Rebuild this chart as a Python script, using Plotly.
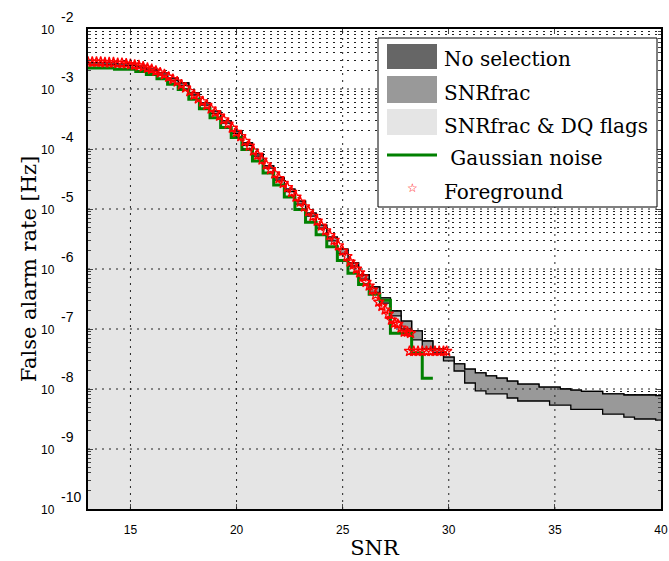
import plotly.graph_objects as go

# step curves: bin start SNR and log10(false alarm rate)
snr = [13.0, 14.25, 15.25, 15.75, 16.25, 16.75, 17.25, 17.75, 18.25, 18.75,
       19.25, 19.75, 20.25, 20.75, 21.25, 21.75, 22.25, 22.75, 23.25, 23.75,
       24.25, 24.75, 25.25, 25.75, 26.25, 26.75, 27.25, 27.75, 28.25, 28.75,
       29.25, 29.75, 30.25, 30.75, 31.25, 31.75, 32.25, 32.75, 33.25, 33.75,
       34.25, 34.75, 35.25, 35.75, 36.25, 36.75, 37.25, 37.75, 38.25, 38.75,
       39.25, 39.75, 40.0]

no_selection_exp = [-2.56, -2.58, -2.62, -2.67, -2.73, -2.82, -2.90, -3.06, -3.23, -3.37,
                    -3.53, -3.70, -3.90, -4.08, -4.28, -4.48, -4.67, -4.87, -5.07, -5.27,
                    -5.47, -5.67, -5.90, -6.10, -6.30, -6.48, -6.70, -6.87, -7.03, -7.20,
                    -7.33, -7.47, -7.58, -7.67, -7.73, -7.78, -7.82, -7.87, -7.92, -7.92,
                    -7.97, -7.97, -8.00, -8.02, -8.04, -8.04, -8.08, -8.08, -8.10, -8.10,
                    -8.10, -8.11, -8.11]

snrfrac_exp = [-2.56, -2.58, -2.62, -2.67, -2.73, -2.82, -2.90, -3.06, -3.23, -3.37,
               -3.53, -3.70, -3.90, -4.08, -4.28, -4.48, -4.67, -4.87, -5.07, -5.27,
               -5.47, -5.67, -5.90, -6.10, -6.30, -6.48, -6.70, -6.87, -7.03, -7.20,
               -7.33, -7.47, -7.58, -7.67, -7.73, -7.78, -7.82, -7.87, -7.92, -7.92,
               -7.97, -7.97, -8.00, -8.02, -8.04, -8.04, -8.08, -8.08, -8.10, -8.10,
               -8.10, -8.11, -8.11]

dq_exp = [-2.59, -2.61, -2.65, -2.70, -2.77, -2.86, -2.94, -3.10, -3.27, -3.41,
          -3.57, -3.74, -3.94, -4.12, -4.32, -4.52, -4.71, -4.92, -5.12, -5.32,
          -5.53, -5.74, -5.95, -6.17, -6.39, -6.57, -6.78, -7.00, -7.18, -7.33,
          -7.40, -7.53, -7.70, -7.90, -8.03, -8.08, -8.08, -8.15, -8.20, -8.20,
          -8.20, -8.27, -8.27, -8.34, -8.34, -8.34, -8.42, -8.42, -8.47, -8.50,
          -8.50, -8.52, -8.52]

gauss_snr = [13.0, 14.25, 15.25, 15.75, 16.25, 16.75, 17.25, 17.75, 18.25, 18.75,
             19.25, 19.75, 20.25, 20.75, 21.25, 21.75, 22.25, 22.75, 23.25, 23.75,
             24.25, 24.75, 25.25, 25.75, 26.25, 26.75, 27.25, 27.75, 28.25, 28.75,
             29.25]
gauss_exp = [-2.65, -2.67, -2.71, -2.76, -2.83, -2.92, -3.01, -3.17, -3.33, -3.48,
             -3.64, -3.81, -4.01, -4.20, -4.40, -4.60, -4.80, -5.01, -5.22, -5.43,
             -5.63, -5.86, -6.07, -6.26, -6.42, -6.52, -7.07, -7.07, -7.40, -7.82,
             -7.82]

fg_snr = [13.0, 13.2, 13.4, 13.6, 13.8, 14.0, 14.2, 14.4, 14.6, 14.8,
          15.0, 15.2, 15.4, 15.6, 15.8, 16.0, 16.2, 16.4, 16.6, 16.8,
          17.0, 17.2, 17.4, 17.6, 17.8, 18.0, 18.2, 18.4, 18.6, 18.8,
          19.0, 19.2, 19.4, 19.6, 19.8, 20.0, 20.2, 20.4, 20.6, 20.8,
          21.0, 21.2, 21.4, 21.6, 21.8, 22.0, 22.2, 22.4, 22.6, 22.8,
          23.0, 23.2, 23.4, 23.6, 23.8, 24.0, 24.2, 24.4, 24.6, 24.8,
          25.0, 25.2, 25.35, 25.5, 25.65, 25.8, 25.95, 26.1, 26.25, 26.4,
          26.55, 26.7, 26.85, 27.0, 27.15, 27.3, 27.45, 27.6, 27.75, 27.9,
          28.05, 28.2, 28.15, 28.35, 28.55, 28.75, 28.95, 29.15, 29.35, 29.55,
          29.75, 29.9]
fg_exp = [-2.55, -2.55, -2.55, -2.55, -2.56, -2.56, -2.56, -2.57, -2.57, -2.58,
          -2.59, -2.60, -2.61, -2.63, -2.65, -2.67, -2.70, -2.73, -2.76, -2.80,
          -2.84, -2.88, -2.93, -2.98, -3.04, -3.10, -3.16, -3.21, -3.27, -3.33,
          -3.39, -3.45, -3.51, -3.58, -3.65, -3.72, -3.79, -3.87, -3.95, -4.03,
          -4.10, -4.18, -4.26, -4.34, -4.41, -4.49, -4.57, -4.64, -4.72, -4.80,
          -4.88, -4.96, -5.04, -5.12, -5.20, -5.28, -5.36, -5.44, -5.52, -5.61,
          -5.70, -5.79, -5.88, -5.93, -6.00, -6.06, -6.13, -6.22, -6.28, -6.35,
          -6.43, -6.55, -6.62, -6.68, -6.75, -6.85, -6.90, -6.92, -6.98, -7.05,
          -7.05, -7.07, -7.37, -7.37, -7.37, -7.37, -7.37, -7.37, -7.37, -7.37,
          -7.37, -7.37]

x_ticks = [15, 20, 25, 30, 35, 40]
y_exps = [-10, -9, -8, -7, -6, -5, -4, -3, -2]

legend_labels = ["No selection", "SNRfrac", "SNRfrac & DQ flags", " Gaussian noise", "Foreground"]

W, H = 669, 561
L, R, T, B = 88, 8, 29, 52
X0, X1 = 13, 40


def pw(v):
    return [10 ** e for e in v]


def px_x(p):
    # page pixel -> paper x
    return (p - L) / (W - L - R)


def px_y(p):
    # page pixel -> paper y
    return (H - B - p) / (H - T - B)


fig = go.Figure()

# No selection lies under SNRfrac everywhere, only its edge is drawn
fig.add_trace(go.Scatter(x=snr, y=pw(no_selection_exp), mode="lines", line_shape="hv",
                         line=dict(color="black", width=1.3), showlegend=False))
fig.add_trace(go.Scatter(x=snr, y=pw(snrfrac_exp), mode="lines", line_shape="hv",
                         line=dict(color="black", width=1.3), fill="tozeroy",
                         fillcolor="#999999", showlegend=False))
fig.add_trace(go.Scatter(x=snr, y=pw(dq_exp), mode="lines", line_shape="hv",
                         line=dict(color="black", width=1.3), fill="tozeroy",
                         fillcolor="#e5e5e5", showlegend=False))

fig.add_trace(go.Scatter(x=gauss_snr, y=pw(gauss_exp), mode="lines", line_shape="hv",
                         line=dict(color="#008000", width=3), showlegend=False))

fig.add_trace(go.Scatter(x=fg_snr, y=pw(fg_exp), mode="markers",
                         marker=dict(symbol="star-open", size=8, color="red",
                                     line=dict(width=1.3, color="red")),
                         showlegend=False))

# legend box (pixel layout)
bx0, bx1, by0, by1 = px_x(378), px_x(657), px_y(207), px_y(38)
shapes = []
grid = dict(color="#222222", width=1, dash="2px,5px")
for e in y_exps[1:-1]:
    yp = (e - y_exps[0]) / (y_exps[-1] - y_exps[0])
    xe = bx0 if by0 < yp < by1 else 1
    shapes.append(dict(type="line", xref="paper", yref="paper", x0=0, x1=xe,
                       y0=yp, y1=yp, line=grid, layer="above"))
for xv in x_ticks[:-1]:
    xp = (xv - X0) / (X1 - X0)
    ye = by0 if bx0 < xp < bx1 else 1
    shapes.append(dict(type="line", xref="paper", yref="paper", x0=xp, x1=xp,
                       y0=0, y1=ye, line=grid, layer="above"))

shapes.append(dict(type="rect", xref="paper", yref="paper", x0=bx0, x1=bx1, y0=by0, y1=by1,
                   fillcolor="white", line=dict(color="black", width=1), layer="above"))
sw = [(44, 69, "#666666"), (76, 103, "#999999"), (109, 135, "#e5e5e5")]
for top, bot, col in sw:
    shapes.append(dict(type="rect", xref="paper", yref="paper", x0=px_x(387), x1=px_x(437),
                       y0=px_y(bot), y1=px_y(top), fillcolor=col, line=dict(width=0),
                       layer="above"))
shapes.append(dict(type="line", xref="paper", yref="paper", x0=px_x(387), x1=px_x(437),
                   y0=px_y(155), y1=px_y(155), line=dict(color="#008000", width=3),
                   layer="above"))

annotations = []
for lab, yc in zip(legend_labels, [59, 93, 126, 158, 192]):
    annotations.append(dict(text=lab, xref="paper", yref="paper", x=px_x(442), y=px_y(yc),
                            xanchor="left", yanchor="middle", showarrow=False,
                            font=dict(family="DejaVu Serif", size=20, color="black")))
annotations.append(dict(text="\u2606", xref="paper", yref="paper", x=px_x(412), y=px_y(188),
                        xanchor="center", yanchor="middle", showarrow=False,
                        font=dict(family="DejaVu Sans", size=12, color="red")))

# MATLAB style log tick labels: base and raised exponent
for e in y_exps:
    yp = (e - y_exps[0]) / (y_exps[-1] - y_exps[0])
    annotations.append(dict(text="10", xref="paper", yref="paper", x=px_x(57), y=yp,
                            xanchor="right", yanchor="middle", yshift=-1, showarrow=False,
                            font=dict(family="Liberation Sans", size=12, color="black")))
    annotations.append(dict(text=str(e), xref="paper", yref="paper", x=px_x(59), y=yp,
                            xanchor="left", yanchor="middle", yshift=12, showarrow=False,
                            font=dict(family="Liberation Sans", size=14, color="black")))

tickfont = dict(family="Liberation Sans", size=12, color="black")
fig.update_layout(
    width=W, height=H,
    margin=dict(l=L, r=R, t=T, b=B),
    paper_bgcolor="white", plot_bgcolor="white",
    showlegend=False,
    xaxis=dict(range=[X0, X1], tickvals=x_ticks, ticks="inside", ticklen=5,
               showline=True, linecolor="black", linewidth=1.5, mirror="ticks",
               showgrid=False, zeroline=False, tickfont=tickfont, automargin=False,
               ticklabelstandoff=9, ticklabeloverflow="allow",
               title=dict(text="SNR", font=dict(family="DejaVu Serif", size=21, color="black"),
                          standoff=4)),
    yaxis=dict(type="log", range=[-10, -2], tickvals=pw(y_exps), showticklabels=False,
               ticks="inside", ticklen=5, showline=True, linecolor="black", linewidth=1.5,
               mirror="ticks", showgrid=False, zeroline=False, automargin=False,
               minor=dict(tickvals=[m * 10 ** e for e in y_exps[:-1] for m in range(2, 10)],
                          ticks="inside", ticklen=3, showgrid=True, gridcolor="#222222",
                          gridwidth=1, griddash="2px,5px"),
               title=dict(text="False alarm rate [Hz]",
                          font=dict(family="DejaVu Serif", size=21, color="black"),
                          standoff=44)),
    shapes=shapes,
    annotations=annotations,
)

# drop the default 8px page margin so the figure fills the window exactly
fig.write_html("out.html", config={"displayModeBar": False},
               post_script="document.body.style.margin='0px';")
